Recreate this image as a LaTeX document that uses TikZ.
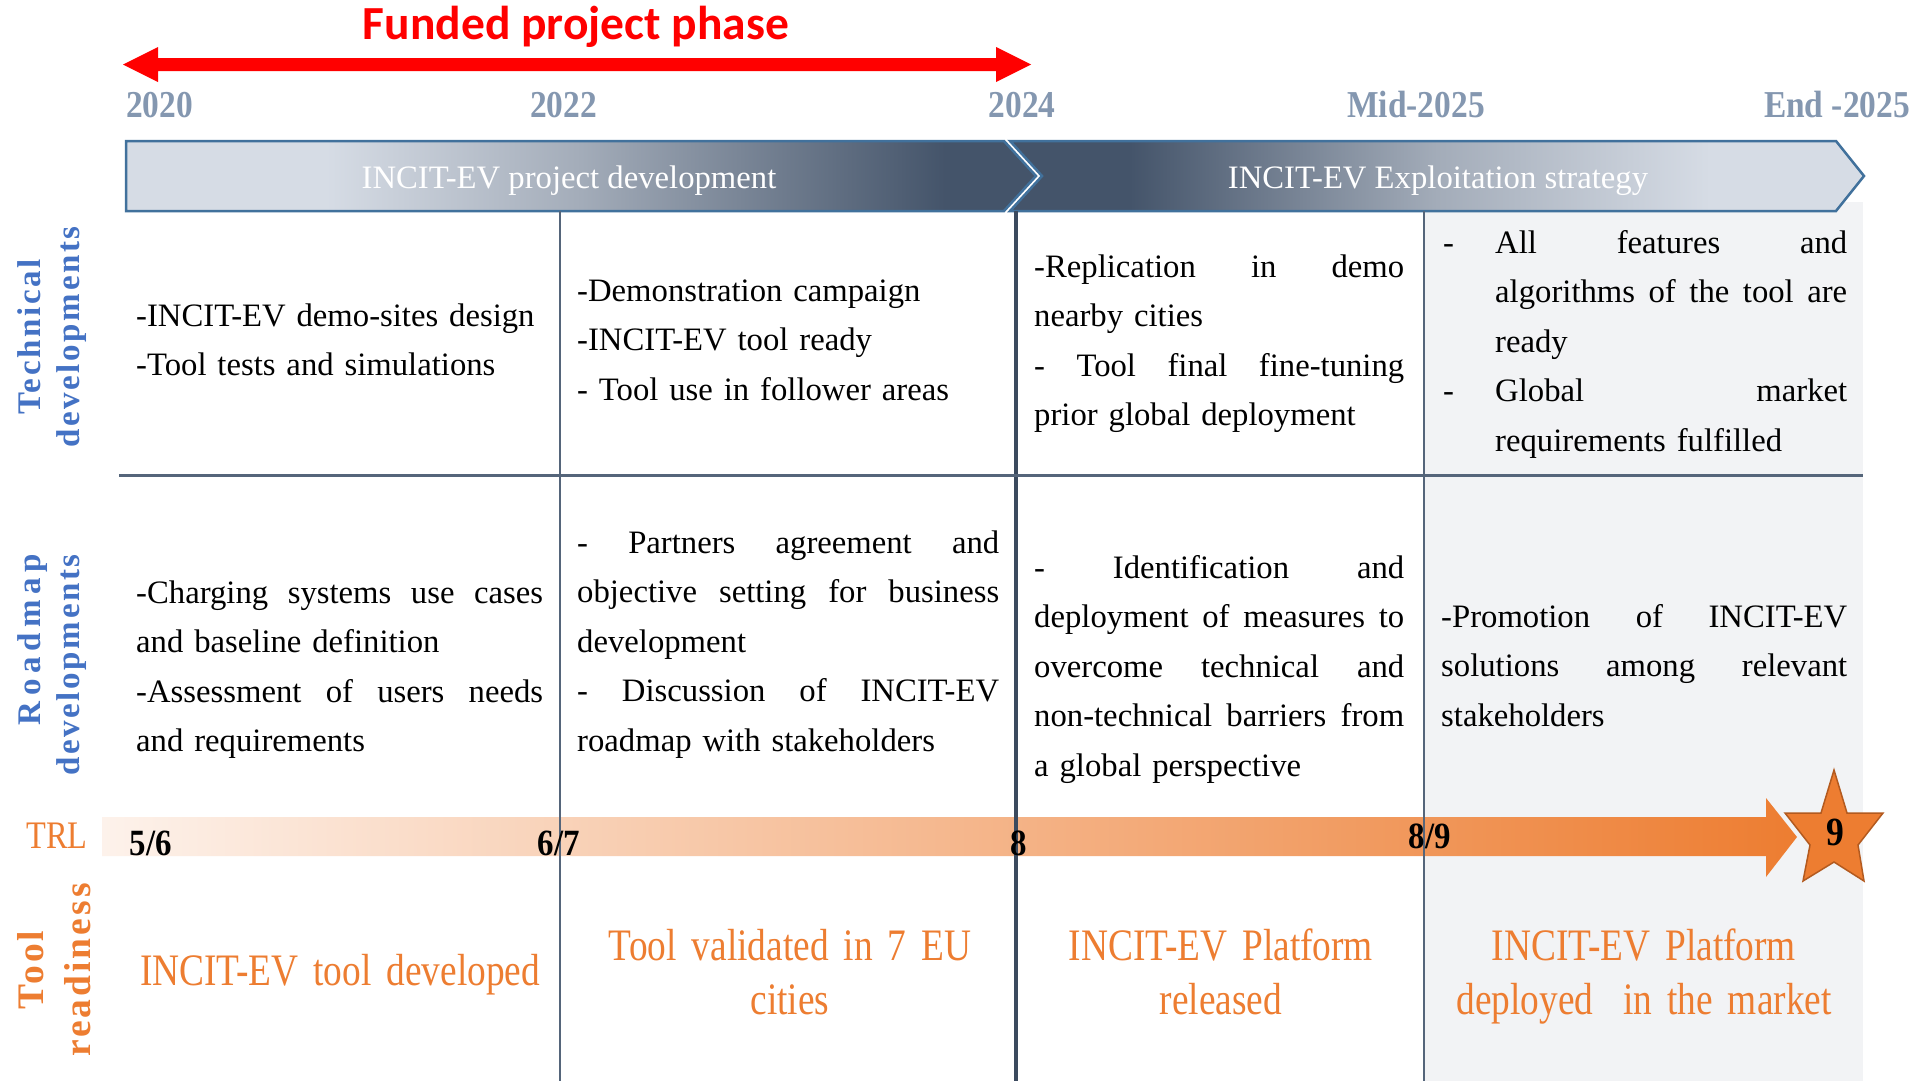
\documentclass[tikz,border=0pt]{standalone}
\usepackage{fontspec}
\setmainfont{Liberation Serif}
\newfontfamily\condfont[FakeStretch=0.83]{Liberation Serif}
\newfontfamily\yearfont[FakeStretch=0.88]{Liberation Serif}
\newfontfamily\numfont[FakeStretch=0.89]{Liberation Serif}
\newfontfamily\labfont[LetterSpace=8]{Liberation Serif}
\newfontfamily\labwide[LetterSpace=17]{Liberation Serif}
\newfontfamily\titlefont{Carlito}
\definecolor{cL}{HTML}{D6DCE5}
\definecolor{cM}{HTML}{A3ACB9}
\definecolor{cD}{HTML}{44546A}
\definecolor{chevBorder}{HTML}{41719C}
\definecolor{yearcol}{HTML}{8497B0}
\definecolor{labblue}{HTML}{4472C4}
\definecolor{orng}{HTML}{ED7D31}
\definecolor{trlA}{HTML}{FDF2EB}
\definecolor{starBorder}{HTML}{B35A1F}
\definecolor{gridcol}{HTML}{55657A}
\definecolor{gridDark}{HTML}{3B4A5E}
\definecolor{bggray}{HTML}{F2F3F5}
\pgfdeclarehorizontalshading{chevA}{100bp}{color(0bp)=(cL); color(36bp)=(cL); color(50bp)=(cM); color(70bp)=(cD); color(100bp)=(cD)}
\pgfdeclarehorizontalshading{chevB}{100bp}{color(0bp)=(cD); color(32bp)=(cD); color(50bp)=(cM); color(66bp)=(cL); color(100bp)=(cL)}
\newcommand{\jl}[2]{\leavevmode\hbox to #1{\spaceskip=0.25em plus 1fil\relax #2}}
\newcommand{\dsh}{\llap{\makebox[52bp][l]{-}}}
\begin{document}
\begin{tikzpicture}[x=1bp,y=-1bp,
  body/.style={font=\fontsize{32.7bp}{49.5bp}\selectfont, inner sep=0pt, anchor=base west, align=left},
  tr/.style={font=\condfont\fontsize{45bp}{54bp}\selectfont, text=orng, align=center, inner sep=0pt, anchor=base, text width=420bp},
  lab/.style={font=\labfont\bfseries\fontsize{33bp}{39bp}\selectfont, rotate=90, align=center, inner sep=0pt},
  labbig/.style={font=\labfont\bfseries\fontsize{37.5bp}{47bp}\selectfont, rotate=90, align=center, inner sep=0pt},
  year/.style={font=\yearfont\bfseries\fontsize{38bp}{40bp}\selectfont, text=yearcol, anchor=base, inner sep=0pt},
  num/.style={font=\numfont\bfseries\fontsize{37bp}{40bp}\selectfont, anchor=base, inner sep=0pt},
  hdr/.style={font=\fontsize{32.7bp}{40bp}\selectfont, text=white, anchor=base, inner sep=0pt},
  grid/.style={draw=gridcol, line width=2bp},
  chev/.style={draw=chevBorder, line width=2.5bp}
]
\useasboundingbox[fill=white] (0,0) rectangle (1918,1081);

% column 4 background
\fill[bggray] (1424,202) rectangle (1863,1081);

% title and red double arrow
\node[font=\titlefont\bfseries\fontsize{47.5bp}{50bp}\selectfont, text=red, anchor=base, inner sep=0pt] (title) at (576,39) {Funded project phase};
\fill[red] (123,64.5) -- (158,47) -- (158,58) -- (996,58) -- (996,47) -- (1031,64.5) -- (996,82) -- (996,71) -- (158,71) -- (158,82) -- cycle;

% years
\node[year] (y2020) at (159.5,117) {2020};
\node[year] (y2022) at (563.5,117) {2022};
\node[year] (y2024) at (1022,117) {2024};
\node[year] (ymid) at (1416,117) {Mid-2025};
\node[year] (yend) at (1837,117) {End -2025};

% chevrons
\shadedraw[shading=chevA, chev] (126,141) -- (1004,141) -- (1036,176) -- (1004,211) -- (126,211) -- cycle;
\shadedraw[shading=chevB, chev] (1010,141) -- (1836,141) -- (1864,176) -- (1836,211) -- (1010,211) -- (1042,176) -- cycle;
\node[hdr] (hdrA) at (569,188) {INCIT-EV project development};
\node[hdr] (hdrB) at (1438,188) {INCIT-EV Exploitation strategy};

% TRL band
\shade[left color=trlA, right color=orng] (102,817) -- (1766,817) -- (1766,798) -- (1797,837) -- (1766,877) -- (1766,856) -- (102,856) -- cycle;

% grid lines
\draw[grid] (560,211) -- (560,1081);
\draw[grid] (1424,211) -- (1424,1081);
\draw[draw=gridDark, line width=4bp] (1016,211) -- (1016,1081);
\draw[draw=gridcol, line width=3bp] (119,475) -- (1863,475);

% star
\filldraw[fill=orng, draw=starBorder, line width=1.5bp] (1834,770) -- (1847,813) -- (1883,813) -- (1858,845) -- (1864,881) -- (1834,862) -- (1803,881) -- (1810,845) -- (1785,813) -- (1821,813) -- cycle;

% TRL numbers
\node[font=\condfont\fontsize{39bp}{40bp}\selectfont, text=orng, anchor=base, inner sep=0pt] (labTRL) at (57,848) {TRL};
\node[num] (n56) at (151,855) {5/6};
\node[num] (n67) at (559,855) {6/7};
\node[num] (n8) at (1019,855) {8};
\node[num] (n89) at (1430,848) {8/9};
\node[num, font=\numfont\bfseries\fontsize{40bp}{40bp}\selectfont] (n9) at (1835,845) {9};

% row labels
\node[lab, text=labblue] (labTech) at (52,337) {Technical\\developments};
\node[lab, text=labblue, align=right] (labRoad) at (52,665) {{\labwide Roadmap}\\developments};
\node[labbig, text=orng] (labTool) at (54,970) {Tool\\readiness};

% row 1
\node[body, text width=410bp] (t11) at (136,326) {-INCIT-EV demo-sites design\\-Tool tests and simulations};
\node[body, text width=422bp] (t12) at (577,301) {-Demonstration campaign\\-INCIT-EV tool ready\\- Tool use in follower areas};
\node[body, text width=370bp] (t13) at (1034,277) {\jl{370bp}{-Replication in demo}\\nearby cities\\\jl{370bp}{- Tool final fine-tuning}\\prior global deployment};
\node[body, text width=352bp] (t14) at (1495,253) {\jl{352bp}{\dsh All features and}\\\jl{352bp}{algorithms of the tool are}\\ready\\\jl{352bp}{\dsh Global market}\\requirements fulfilled};

% row 2
\node[body, text width=407bp] (r21) at (136,603) {\jl{407bp}{-Charging systems use cases}\\and baseline definition\\\jl{407bp}{-Assessment of users needs}\\and requirements};
\node[body, text width=422bp] (r22) at (577,553) {\jl{422bp}{- Partners agreement and}\\\jl{422bp}{objective setting for business}\\development\\\jl{422bp}{- Discussion of INCIT-EV}\\roadmap with stakeholders};
\node[body, text width=370bp] (r23) at (1034,578) {\jl{370bp}{- Identification and}\\\jl{370bp}{deployment of measures to}\\\jl{370bp}{overcome technical and}\\\jl{370bp}{non-technical barriers from}\\a global perspective};
\node[body, text width=406bp] (r24) at (1441,627) {\jl{406bp}{-Promotion of INCIT-EV}\\\jl{406bp}{solutions among relevant}\\stakeholders};

% row 3
\node[tr] (c1) at (340,985) {INCIT-EV tool developed};
\node[tr] (c2) at (790,960) {Tool validated in 7 EU\\cities};
\node[tr] (c3) at (1221,960) {INCIT-EV Platform\\released};
\node[tr] (c4) at (1644,960) {INCIT-EV Platform\\deployed\ \ in the market};
\end{tikzpicture}
\end{document}
